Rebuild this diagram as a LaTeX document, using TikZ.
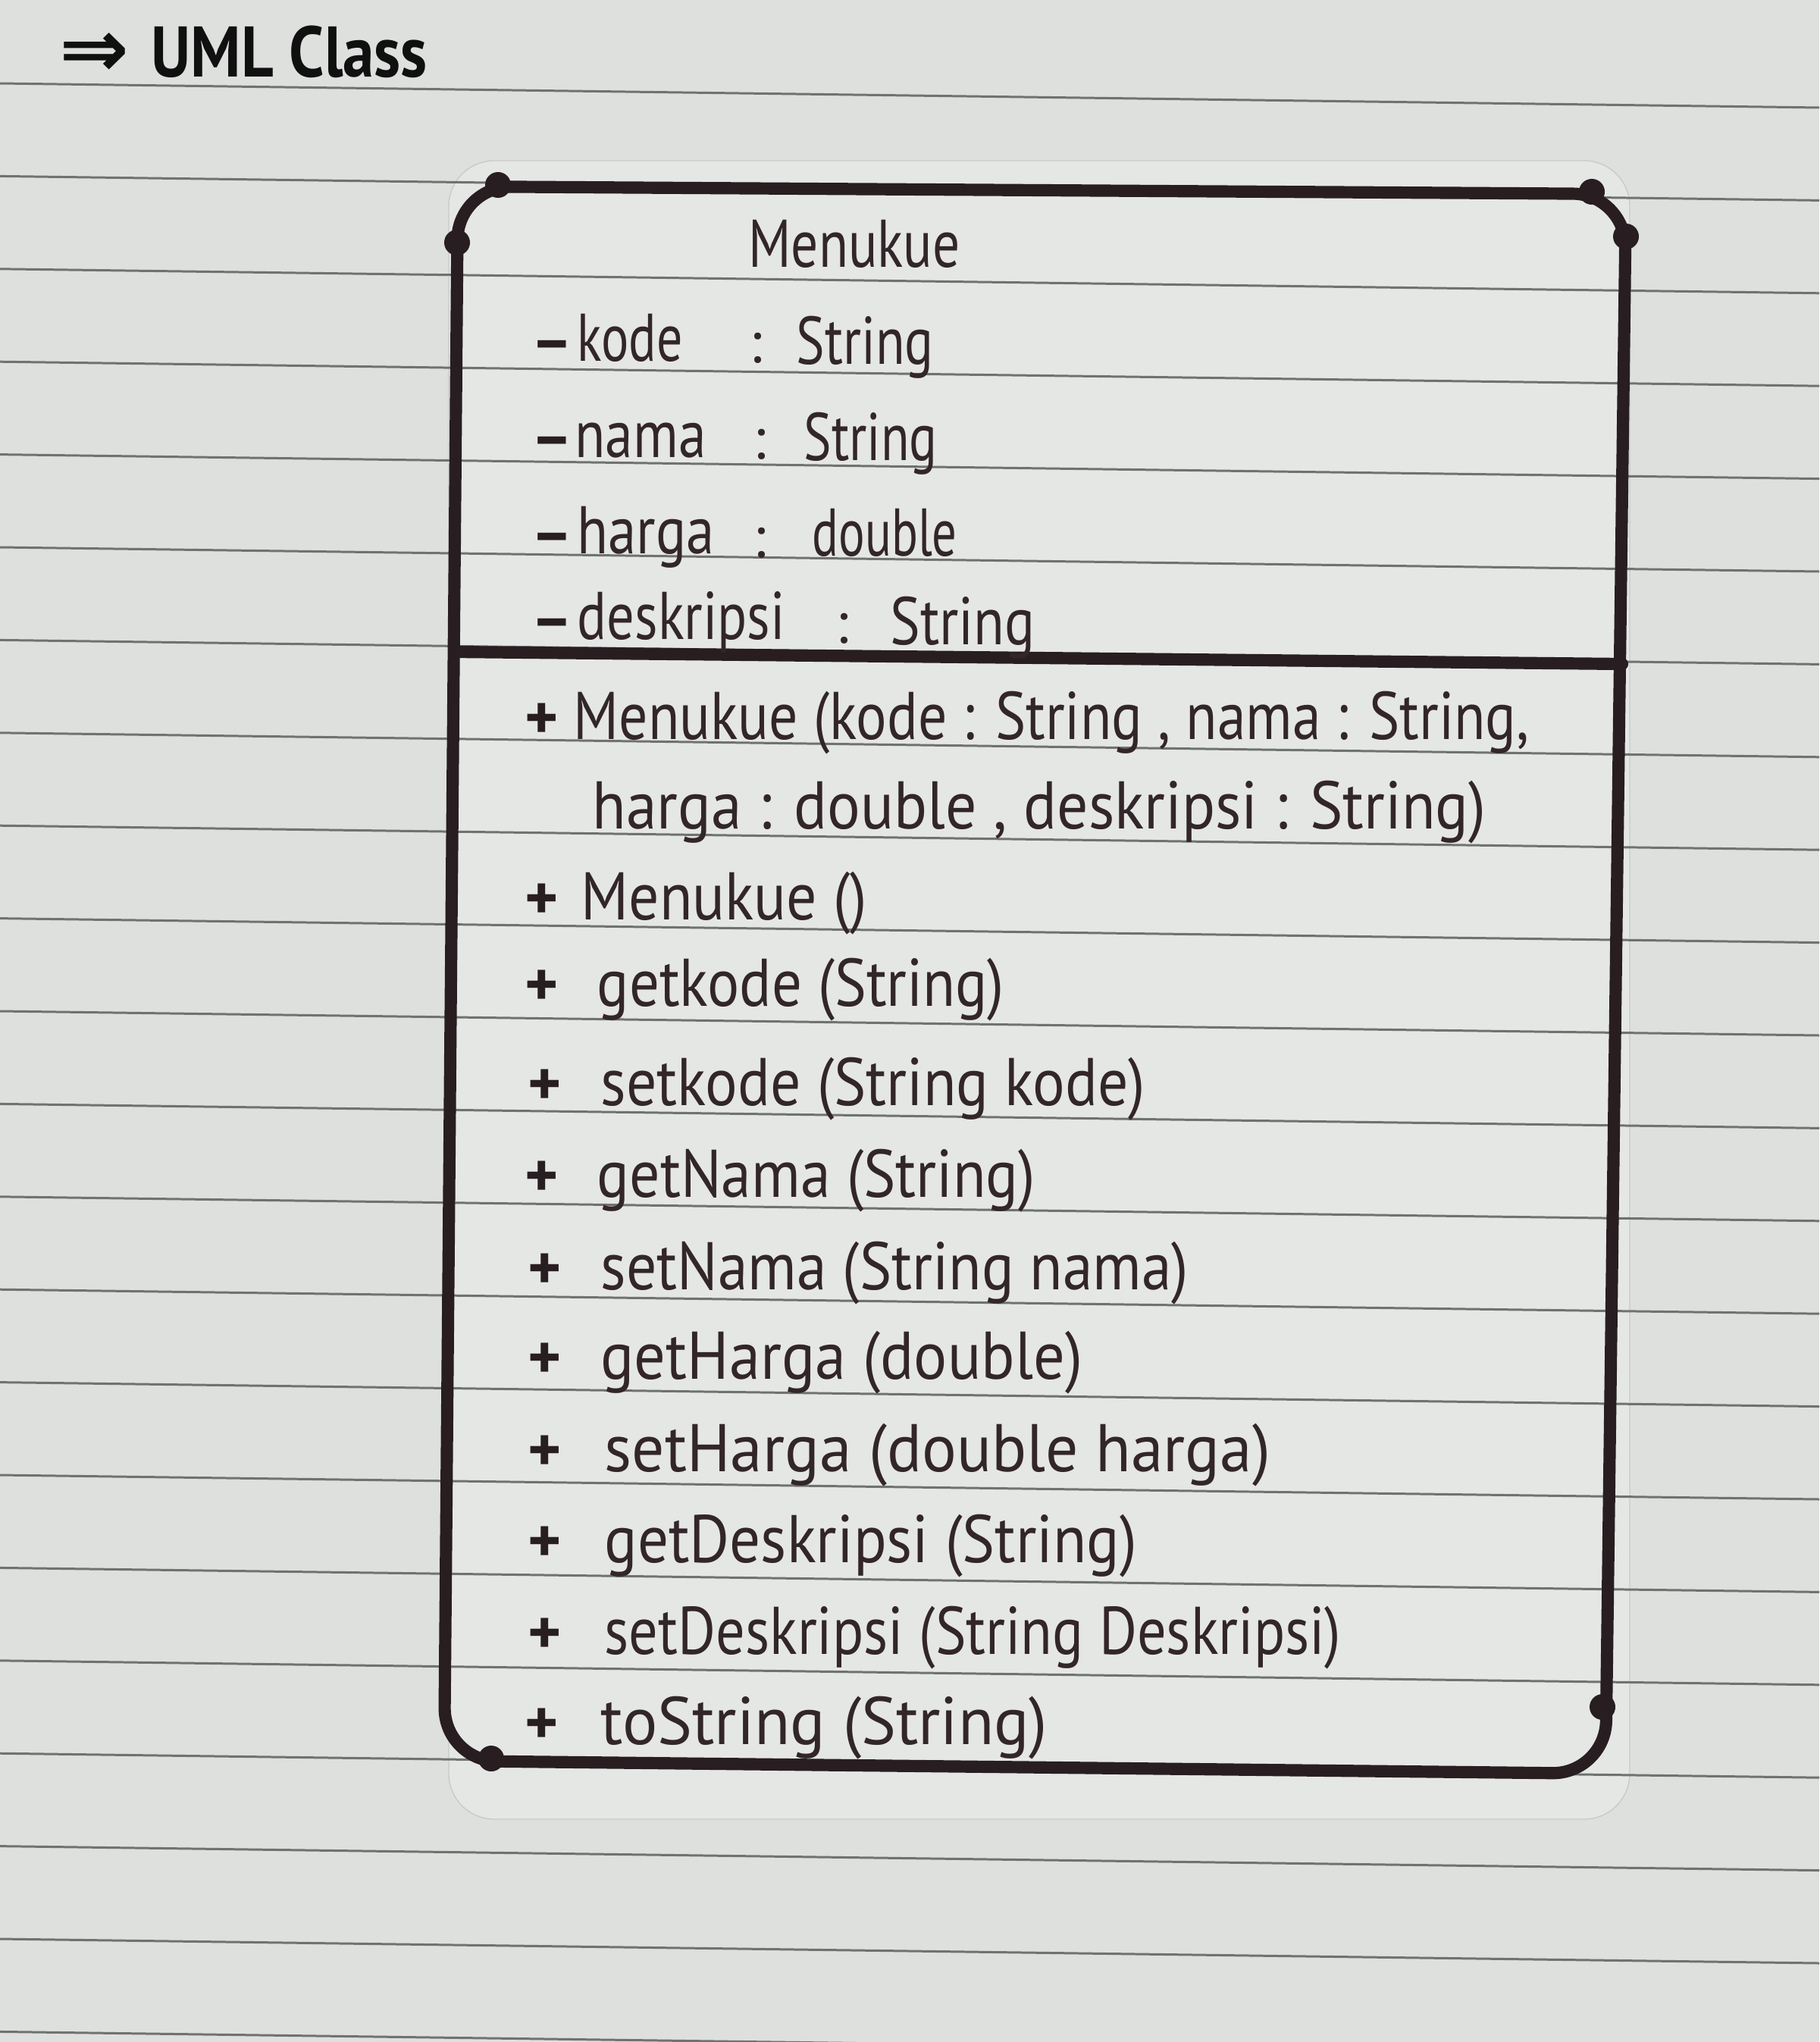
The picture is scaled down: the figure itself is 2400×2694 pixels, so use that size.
\documentclass[tikz,border=0pt]{standalone}
\usepackage{fontspec}
\usepackage{graphicx}
\setmainfont{PT Sans}
\newfontfamily\symfont{DejaVu Sans}
\definecolor{paperbg}{RGB}{221,224,221}
\definecolor{stickerbg}{RGB}{229,231,228}
\definecolor{stickeredge}{RGB}{200,203,200}
\definecolor{ruleclr}{RGB}{112,114,112}
\definecolor{boxink}{RGB}{40,30,33}
\definecolor{ink}{RGB}{50,38,42}
\definecolor{titleink}{RGB}{16,16,16}
\newcommand{\fitw}[2]{\resizebox{#1}{1.15\height}{#2}}
\begin{document}
\begin{tikzpicture}[x=0.01cm,y=-0.01cm,
  ruling/.style={draw=ruleclr, line width=0.85pt},
  boxline/.style={draw=boxink, line width=4.6pt, line cap=round, line join=round},
  pendot/.style={circle, fill=boxink, inner sep=0pt, minimum size=0.34cm},
  txt/.style={anchor=base west, inner sep=0pt, text=ink, font=\fontsize{22}{26}\selectfont},
  ctxt/.style={txt, anchor=base},
  vis/.style={anchor=base west, inner sep=0pt, text=boxink, font=\fontsize{24}{28}\selectfont\bfseries},
  titletxt/.style={anchor=base west, inner sep=0pt, text=titleink, font=\fontsize{24}{28}\selectfont\bfseries}]

% paper
\fill[paperbg] (0,0) rectangle (2400,2694);
\useasboundingbox (0,0) rectangle (2400,2694);
\filldraw[fill=stickerbg, draw=stickeredge, line width=0.4pt, rounded corners=0.6cm] (592,212) rectangle (2150,2400);
\foreach \k in {0,...,21} {
  \draw[ruling] (0,{110+122.4*\k}) -- (2400,{142+122.4*\k});
}

% title
\node[titletxt] (arrow) at (78,102) {\resizebox{0.92cm}{0.58cm}{\symfont\bfseries ⇒}};
\node[titletxt] (title) at (199,102) {\resizebox{3.64cm}{1.12\height}{UML Class}};

% class box
\coordinate (tl) at (604,246);
\coordinate (tr) at (2145,256);
\coordinate (br) at (2118,2340);
\coordinate (bl) at (586,2323);
\draw[boxline, rounded corners=0.7cm] (tl) -- (tr) -- (br) -- (bl) -- cycle;
\coordinate (dl) at (601,860);
\coordinate (dr) at (2140,876);
\draw[boxline] (dl) -- (dr);
\node[pendot] (d1) at (657,244) {};
\node[pendot] (d2) at (603,320) {};
\node[pendot] (d3) at (2100,253) {};
\node[pendot] (d4) at (2145,312) {};
\node[pendot] (d5) at (648,2320) {};
\node[pendot] (d6) at (2114,2252) {};

% class name
\node[ctxt] (cname) at (1127,352) {\fitw{2.79cm}{Menukue}};

% attributes
\node[vis] (a1m) at (700,478) {–};
\node[txt] (a1n) at (761,476) {\fitw{1.39cm}{kode}};
\node[txt] (a1c) at (988,478) {:};
\node[txt] (a1t) at (1050,480) {\fitw{1.81cm}{String}};

\node[vis] (a2m) at (700,605) {–};
\node[txt] (a2n) at (758,603) {\fitw{1.73cm}{nama}};
\node[txt] (a2c) at (993,605) {:};
\node[txt] (a2t) at (1060,607) {\fitw{1.76cm}{String}};

\node[vis] (a3m) at (700,732) {–};
\node[txt] (a3n) at (761,730) {\fitw{1.81cm}{harga}};
\node[txt] (a3c) at (993,735) {:};
\node[txt] (a3t) at (1071,733) {\fitw{1.91cm}{double}};

\node[vis] (a4m) at (700,845) {–};
\node[txt] (a4n) at (761,843) {\fitw{2.74cm}{deskripsi}};
\node[txt] (a4c) at (1102,848) {:};
\node[txt] (a4t) at (1174,850) {\fitw{1.91cm}{String}};

% methods
\node[vis] (p1) at (692,975) {+};
\node[txt] (m1) at (756,975) {\fitw{12.60cm}{Menukue (kode : String , nama : String,}};
\node[txt] (m1b) at (781,1093) {\fitw{11.78cm}{harga : double , deskripsi : String)}};
\node[vis] (p2) at (692,1213) {+};
\node[txt] (m2) at (766,1213) {\fitw{3.77cm}{Menukue ()}};
\node[vis] (p3) at (692,1327) {+};
\node[txt] (m3) at (787,1327) {\fitw{5.37cm}{getkode (String)}};
\node[vis] (p4) at (696,1458) {+};
\node[txt] (m4) at (792,1458) {\fitw{7.18cm}{setkode (String kode)}};
\node[vis] (p5) at (692,1579) {+};
\node[txt] (m5) at (787,1579) {\fitw{5.78cm}{getNama (String)}};
\node[vis] (p6) at (696,1701) {+};
\node[txt] (m6) at (792,1701) {\fitw{7.75cm}{setNama (String nama)}};
\node[vis] (p7) at (696,1819) {+};
\node[txt] (m7) at (792,1819) {\fitw{6.35cm}{getHarga (double)}};
\node[vis] (p8) at (696,1941) {+};
\node[txt] (m8) at (797,1941) {\fitw{8.78cm}{setHarga (double harga)}};
\node[vis] (p9) at (696,2061) {+};
\node[txt] (m9) at (797,2061) {\fitw{7.02cm}{getDeskripsi (String)}};
\node[vis] (p10) at (696,2182) {+};
\node[txt] (m10) at (797,2182) {\fitw{9.71cm}{setDeskripsi (String Deskripsi)}};
\node[vis] (p11) at (692,2301) {+};
\node[txt] (m11) at (792,2301) {\fitw{5.89cm}{toString (String)}};
\end{tikzpicture}
\end{document}
